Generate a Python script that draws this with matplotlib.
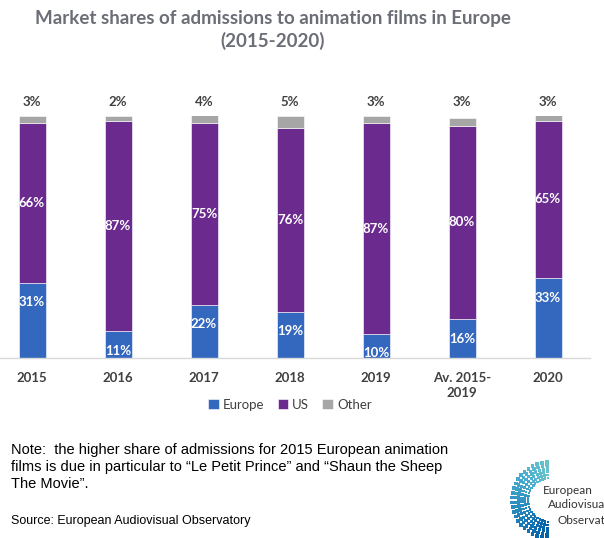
import matplotlib.pyplot as plt
import numpy as np

plt.rcParams['font.family'] = ['Lato', 'DejaVu Sans']

# Market shares of admissions to animation films (%)
years = ['2015', '2016', '2017', '2018', '2019', 'Av. 2015-\n2019', '2020']
europe = [31, 11, 22, 19, 10, 16, 33]
us = [66, 87, 75, 76, 87, 80, 65]
other = [3, 2, 4, 5, 3, 3, 3]

c_eu = '#3467BE'
c_us = '#6A2A8E'
c_ot = '#A6A6A6'
txt = '#404040'

W, H = 604, 538
fig = plt.figure(figsize=(W / 100, H / 100), dpi=100)
fig.patch.set_facecolor('white')

# axes placed in pixel terms: left 0, right 590, baseline y=358, 100% at y=116
ax = fig.add_axes([0, (H - 358) / H, 590 / W, (358 - 116) / H])
x = np.arange(len(years))
bw = 27 / 86

b1 = ax.bar(x, europe, bw, color=c_eu, edgecolor='white', linewidth=0.4)
b2 = ax.bar(x, us, bw, bottom=europe, color=c_us, edgecolor='white', linewidth=0.4)
bot2 = np.array(europe) + np.array(us)
b3 = ax.bar(x, other, bw, bottom=bot2, color=c_ot, edgecolor='white', linewidth=0.4)

lab_font = dict(fontweight='bold', fontsize=9.5)
for i in range(len(years)):
    ax.annotate(f'{europe[i]}%', (x[i], europe[i]), xytext=(0, -14), textcoords='offset points',
                ha='center', va='center', color='white', **lab_font)
    ax.text(x[i], europe[i] + us[i] / 2, f'{us[i]}%', ha='center', va='center',
            color='white', **lab_font)
    ax.annotate(f'{other[i]}%', (x[i], 100), xytext=(0, 10), textcoords='offset points',
                ha='center', va='center', color=txt, annotation_clip=False, **lab_font)

ax.set_xlim(-32 / 86, (590 - 32) / 86)
ax.set_ylim(0, 100)
ax.set_yticks([])
ax.set_xticks(x)
ax.set_xticklabels(years, fontweight='bold', fontsize=9.5, color=txt, linespacing=1.3, va='top')
ax.tick_params(axis='x', length=0, pad=10)
for s in ['top', 'right', 'left']:
    ax.spines[s].set_visible(False)
ax.spines['bottom'].set_color('#D9D9D9')
ax.spines['bottom'].set_linewidth(1)

leg = fig.legend([b1, b2, b3], ['Europe', 'US', 'Other'], loc='center',
                 bbox_to_anchor=(290 / W, 1 - 405 / H), ncol=3, frameon=False,
                 handlelength=0.8, handleheight=0.8, handletextpad=0.3, columnspacing=1.0,
                 prop={'size': 9.5})
for t in leg.get_texts():
    t.set_color(txt)

fig.text(273 / W, 1 - 30 / H, 'Market shares of admissions to animation films in Europe\n(2015-2020)',
         ha='center', va='center', fontsize=13.5, fontweight='bold', color='#6B6E76', linespacing=1.3)

fig.text(11 / W, 1 - 443 / H,
         'Note:  the higher share of admissions for 2015 European animation\n'
         'films is due in particular to \u201cLe Petit Prince\u201d and \u201cShaun the Sheep\n'
         'The Movie\u201d.',
         ha='left', va='top', fontsize=10.5, color='black', linespacing=1.25,
         family=['Liberation Sans', 'DejaVu Sans'])
fig.text(11 / W, 1 - 521 / H, 'Source: European Audiovisual Observatory', ha='left', va='center',
         fontsize=9, color='black', family=['Liberation Sans', 'DejaVu Sans'])

# logo: swirl of dots plus name
lx = fig.add_axes([0, 0, 1, 1])
lx.set_xlim(0, W)
lx.set_ylim(H, 0)
lx.axis('off')
cx, cy = 550, 500
for k, r in enumerate(np.linspace(22, 38, 6)):
    ang = np.radians(np.linspace(95, 265, 24))
    px = cx + r * np.cos(ang)
    py = cy - r * np.sin(ang)
    col = plt.cm.GnBu(np.linspace(0.55, 0.9, len(ang)))
    lx.scatter(px, py, s=3 + k * 0.8, marker='s', c=col, linewidths=0)
lx.text(543, 490, 'European', fontsize=8.5, color='#333333', va='center', ha='left')
lx.text(548, 505, 'Audiovisua', fontsize=8.5, color='#333333', va='center', ha='left')
lx.text(557, 520, 'Observat', fontsize=8.5, color='#333333', va='center', ha='left')

fig.savefig('out.png', dpi=100, facecolor='white')
